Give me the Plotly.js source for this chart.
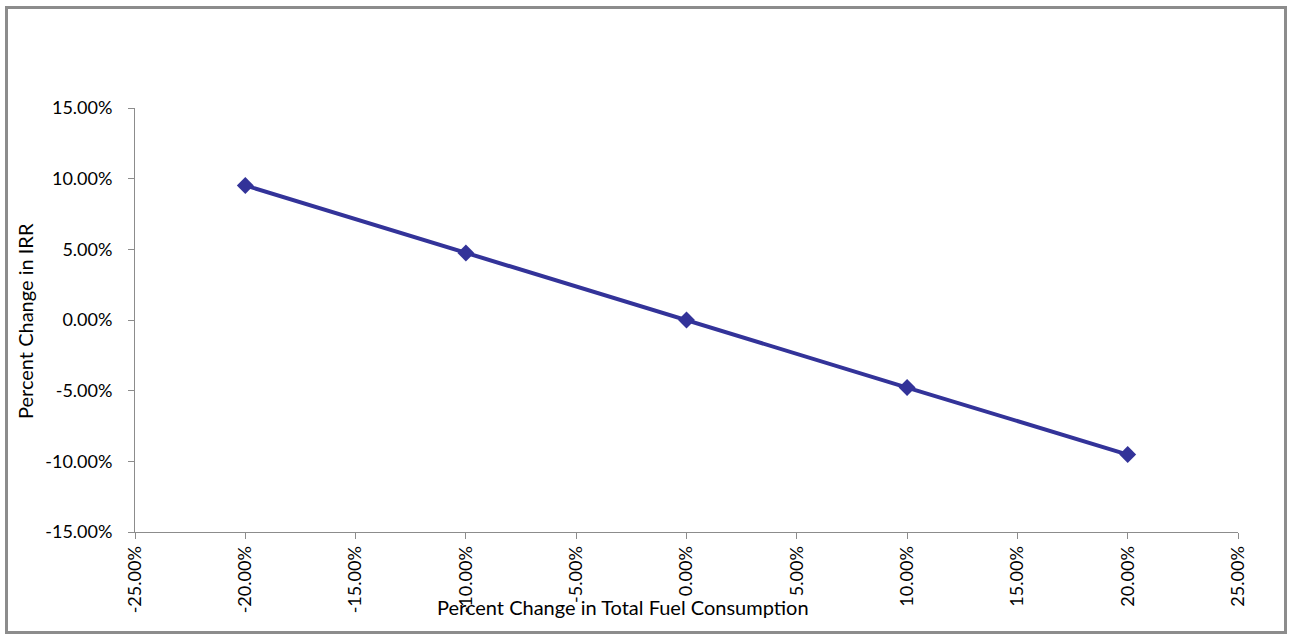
<!DOCTYPE html>
<html>
<head>
<meta charset="utf-8">
<script src="https://cdn.plot.ly/plotly-3.0.1.min.js"></script>
<style>
  html, body { margin: 0; padding: 0; background: #fff; }
  #chart { width: 1290px; height: 637px; }
</style>
</head>
<body>
<div id="chart"></div>
<script>
// Sensitivity of IRR to a change in total fuel consumption
const fuelChange = [-0.20, -0.10, 0.00, 0.10, 0.20];
const irrChange = [0.0952, 0.0474, 0.0000, -0.0478, -0.0952];

const xTickVals = [-0.25, -0.20, -0.15, -0.10, -0.05, 0.00, 0.05, 0.10, 0.15, 0.20, 0.25];
const xTickText = ['-25.00%', '-20.00%', '-15.00%', '-10.00%', '-5.00%', '0.00%', '5.00%', '10.00%', '15.00%', '20.00%', '25.00%'];
const yTickVals = [-0.15, -0.10, -0.05, 0.00, 0.05, 0.10, 0.15];
const yTickText = ['-15.00%', '-10.00%', '-5.00%', '0.00%', '5.00%', '10.00%', '15.00%'];

const axisColor = '#8c8c8c';
const fontFamily = 'Lato, "Open Sans", sans-serif';
const fontSize = 18;
const titleSize = 20;

const trace = {
  x: fuelChange,
  y: irrChange,
  type: 'scatter',
  mode: 'lines+markers',
  line: { color: '#333399', width: 4 },
  marker: { symbol: 'diamond', size: 13, color: '#333399' },
  hoverinfo: 'x+y'
};

const layout = {
  width: 1290,
  height: 637,
  margin: { l: 135, r: 52, t: 108, b: 105 },
  paper_bgcolor: '#ffffff',
  plot_bgcolor: '#ffffff',
  showlegend: false,
  font: { family: fontFamily, size: fontSize, color: '#000000' },
  xaxis: {
    range: [-0.25, 0.25],
    tickmode: 'array',
    tickvals: xTickVals,
    ticktext: xTickText,
    tickangle: -90,
    ticks: 'outside',
    ticklen: 6,
    tickcolor: axisColor,
    showline: true,
    linecolor: axisColor,
    linewidth: 1,
    showgrid: false,
    zeroline: false,
    fixedrange: true,
    automargin: false
  },
  yaxis: {
    range: [-0.15, 0.15],
    tickmode: 'array',
    tickvals: yTickVals,
    ticktext: yTickText,
    ticks: 'outside',
    ticklen: 6,
    ticklabelstandoff: 12,
    tickcolor: axisColor,
    showline: true,
    linecolor: axisColor,
    linewidth: 1,
    showgrid: false,
    zeroline: false,
    fixedrange: true,
    automargin: false
  },
  annotations: [
    {
      text: 'Percent Change in Total Fuel Consumption',
      xref: 'paper', yref: 'paper',
      x: (623 - 135) / 1103, y: -(607 - 532) / 424,
      xanchor: 'center', yanchor: 'middle',
      showarrow: false,
      font: { family: fontFamily, size: titleSize, color: '#000000' }
    },
    {
      text: 'Percent Change in IRR',
      xref: 'paper', yref: 'paper',
      x: -(135 - 25) / 1103, y: (532 - 321) / 424,
      xanchor: 'center', yanchor: 'middle',
      textangle: -90,
      showarrow: false,
      font: { family: fontFamily, size: titleSize, color: '#000000' }
    }
  ],
  shapes: [
    {
      // outer chart frame
      type: 'rect',
      xref: 'paper', yref: 'paper',
      x0: -(135 - 6.5) / 1103, x1: 1 + (1285.5 - 1238) / 1103,
      y0: -(632.5 - 532) / 424, y1: 1 + (108 - 7.5) / 424,
      line: { color: '#8c8c8c', width: 3 },
      fillcolor: 'rgba(0,0,0,0)',
      layer: 'below'
    }
  ]
};

Plotly.newPlot('chart', [trace], layout, { displayModeBar: false, staticPlot: true });
</script>
</body>
</html>
